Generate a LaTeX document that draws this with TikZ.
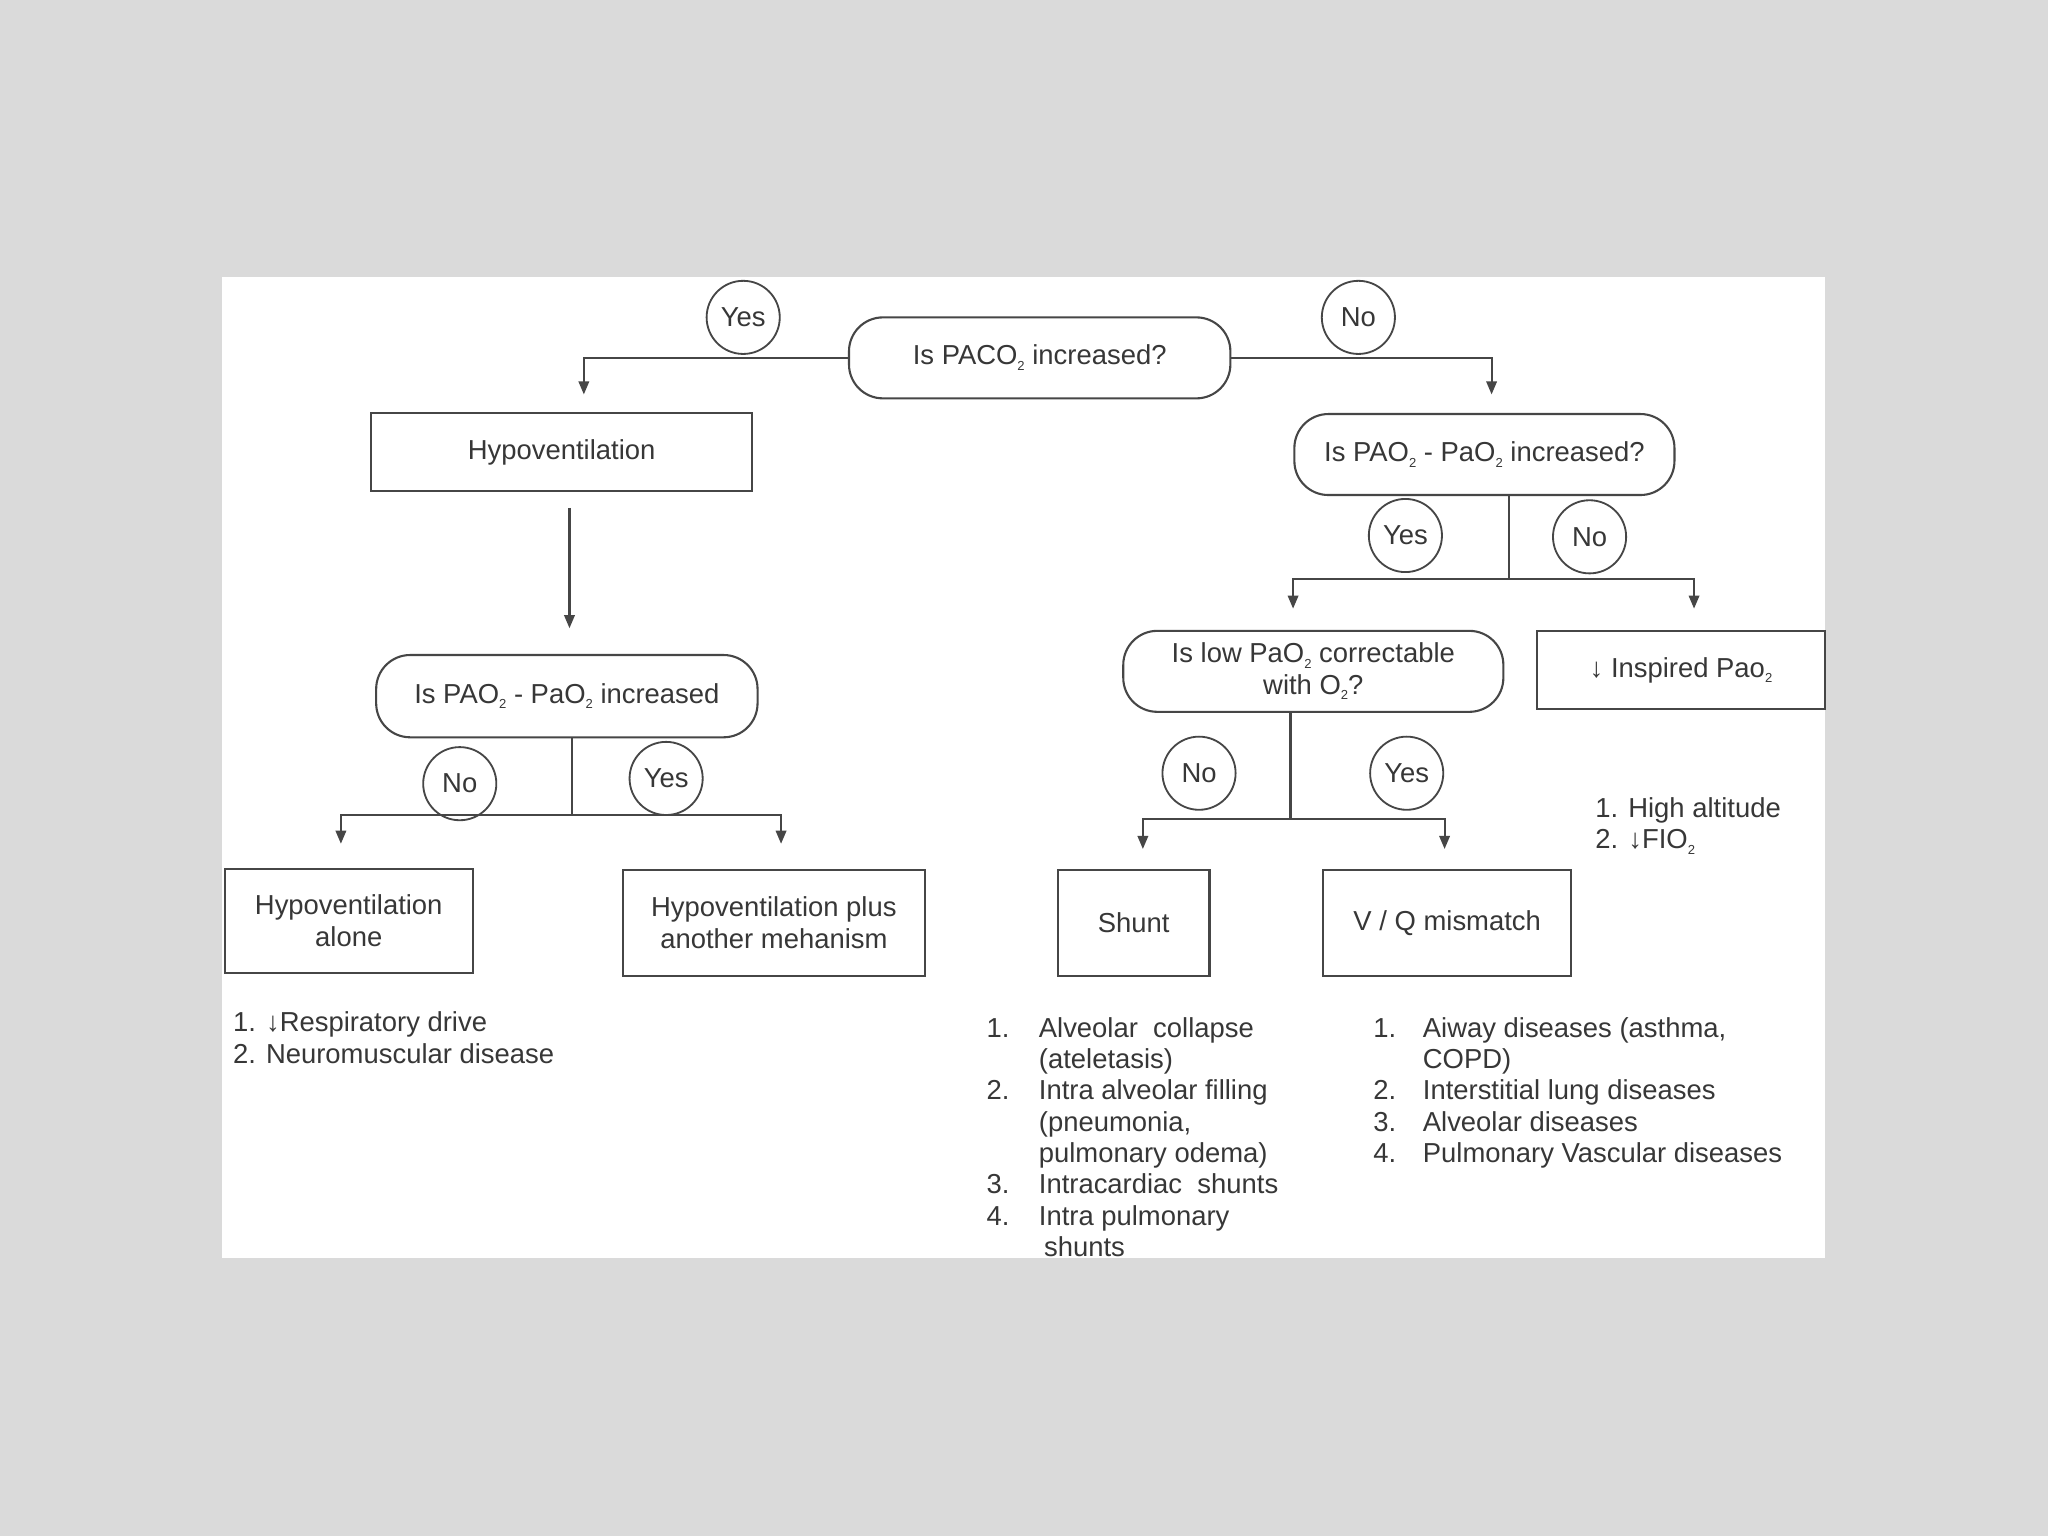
\documentclass[tikz,border=0pt]{standalone}
\usepackage{fontspec}
\setmainfont{Liberation Sans}
\usetikzlibrary{arrows.meta}
\definecolor{bgc}{RGB}{218,218,218}
\definecolor{ink}{RGB}{55,55,55}
\definecolor{lin}{RGB}{70,70,70}
\newcommand{\sbt}[1]{\raisebox{-2.2pt}{\fontsize{5}{6}\selectfont #1}}
\begin{document}
\begin{tikzpicture}[x=0.5pt,y=-0.5pt, font=\fontsize{10.5}{12}\selectfont, text=ink,
  box/.style={draw=lin, line width=0.8pt, inner sep=0pt, align=center},
  rbox/.style={box, rounded corners=13pt},
  yn/.style={draw=lin, line width=0.7pt, circle, minimum size=28pt, inner sep=0pt},
  conn/.style={draw=lin, line width=0.8pt},
  arr/.style={conn, -{Triangle[length=5pt,width=4pt]}}]
\useasboundingbox (0,0) rectangle (1568,1176);
\fill[bgc] (0,0) rectangle (1568,1176);
\fill[white] (170,212) rectangle (1397,963);

% main nodes
\node[rbox, minimum width=146pt, minimum height=31pt] (q1) at (796,274) {Is PACO\sbt{2} increased?};
\node[box, minimum width=146pt, minimum height=30pt] (hypo) at (430,346) {Hypoventilation};
\node[rbox, minimum width=146pt, minimum height=31.5pt] (q2) at (434,533) {Is PAO\sbt{2} - PaO\sbt{2} increased};
\node[box, minimum width=95pt, minimum height=40pt] (alone) at (267,705) {Hypoventilation\\alone};
\node[box, minimum width=115.5pt, minimum height=40.5pt] (plus) at (592.5,706.5) {Hypoventilation plus\\another mehanism};
\node[rbox, minimum width=145.5pt, minimum height=31pt] (q3) at (1136.5,348) {Is PAO\sbt{2} - PaO\sbt{2} increased?};
\node[rbox, minimum width=145.5pt, minimum height=31pt] (q4) at (1005.5,514) {Is low PaO\sbt{2} correctable\\with O\sbt{2}?};
\node[box, minimum width=110pt, minimum height=30pt] (insp) at (1287,513) {↓ Inspired Pao\sbt{2}};
\node[box, minimum width=58pt, minimum height=40.5pt] (shunt) at (868,706.5) {Shunt};
\node[box, minimum width=95pt, minimum height=40.5pt] (vq) at (1108,706.5) {V / Q mismatch};

% yes/no circles
\node[yn] (y1) at (569,243) {Yes};
\node[yn] (n1) at (1040,243) {No};
\node[yn] (n2) at (352,600) {No};
\node[yn] (y2) at (510,596) {Yes};
\node[yn] (y3) at (1076,410) {Yes};
\node[yn] (n3) at (1217,411) {No};
\node[yn] (n4) at (918,592) {No};
\node[yn] (y4) at (1077,592) {Yes};

% junctions and arrow tips
\coordinate (t1) at (447,302);
\coordinate (t2) at (1142,302);
\coordinate (t3) at (436,481);
\coordinate (j1) at (438,624);
\coordinate (t4) at (261,646);
\coordinate (t5) at (598,646);
\coordinate (j2) at (1155,443);
\coordinate (t6) at (990,466);
\coordinate (t7) at (1297,466);
\coordinate (j3) at (988,627);
\coordinate (t8) at (875,650);
\coordinate (t9) at (1106,650);

% connectors
\draw[arr] (q1.west) -| (t1);
\draw[arr] (q1.east) -| (t2);
\draw[arr] ([yshift=-6pt]hypo.south -| t3) -- (t3);
\draw[conn] (q2.south -| j1) -- (j1);
\draw[arr] (j1) -| (t4);
\draw[arr] (j1) -| (t5);
\draw[conn] (q3.south -| j2) -- (j2);
\draw[arr] (j2) -| (t6);
\draw[arr] (j2) -| (t7);
\draw[conn] (q4.south -| j3) -- (j3);
\draw[arr] (j3) -| (t8);
\draw[arr] (j3) -| (t9);

% lists
\node[anchor=base west, inner sep=0pt] (l1) at (178,790) {\begin{tabular}[t]{@{}l@{}}1. ↓Respiratory drive\\2. Neuromuscular disease\end{tabular}};
\node[anchor=base west, inner sep=0pt] (l2) at (1221,626) {\begin{tabular}[t]{@{}l@{}}1. High altitude\\2. ↓FIO\sbt{2}\end{tabular}};
\node[anchor=base west, inner sep=0pt] (l3) at (755,794) {\begin{tabular}[t]{@{}p{20pt}@{}l@{}}
1. & Alveolar\ \ collapse\\
   & (ateletasis)\\
2. & Intra alveolar filling\\
   & (pneumonia,\\
   & pulmonary odema)\\
3. & Intracardiac\ \ shunts\\
4. & Intra pulmonary\\
   & \hspace{2pt}shunts
\end{tabular}};
\node[anchor=base west, inner sep=0pt] (l4) at (1051,794) {\begin{tabular}[t]{@{}p{19pt}@{}l@{}}
1. & Aiway diseases (asthma,\\
   & COPD)\\
2. & Interstitial lung diseases\\
3. & Alveolar diseases\\
4. & Pulmonary Vascular diseases
\end{tabular}};
\end{tikzpicture}
\end{document}
